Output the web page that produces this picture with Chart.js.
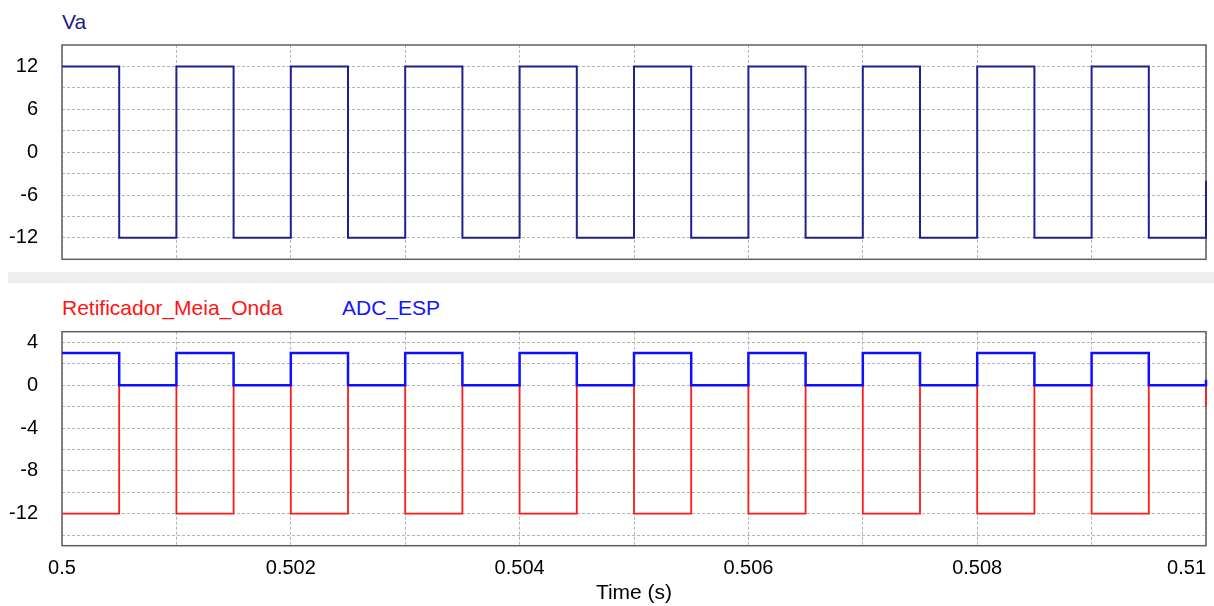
<!DOCTYPE html>
<html>
<head>
<meta charset="utf-8">
<script src="https://cdn.jsdelivr.net/npm/chart.js@4/dist/chart.umd.min.js"></script>
<style>
  body { margin: 0; background: #fff; width: 1214px; height: 606px; position: relative; overflow: hidden; font-family: "Liberation Sans", Arial, sans-serif; }
  canvas { position: absolute; left: 0; }
  #top-chart { top: 0; }
  #bottom-chart { top: 283px; }
  .band { position: absolute; left: 8px; top: 272px; width: 1206px; height: 11px; background: #eeeeee; }
  .label { position: absolute; font-size: 21px; line-height: 21px; white-space: nowrap; }
</style>
</head>
<body>
<div class="label" style="left:62px; top:11px; color:#1c1c8e">Va</div>
<div class="band"></div>
<div class="label" style="left:62px; top:297px; color:#ff1414">Retificador_Meia_Onda</div>
<div class="label" style="left:342px; top:297px; color:#1414ff">ADC_ESP</div>
<canvas id="top-chart" width="1214" height="270"></canvas>
<canvas id="bottom-chart" width="1214" height="323"></canvas>
<script>
// time of each step (s) and the level held from that time on
const time = [0.5, 0.5005, 0.501, 0.5015, 0.502, 0.5025, 0.503, 0.5035, 0.504, 0.5045,
  0.505, 0.5055, 0.506, 0.5065, 0.507, 0.5075, 0.508, 0.5085, 0.509, 0.5095, 0.51];
const va = [12, -12, 12, -12, 12, -12, 12, -12, 12, -12,
  12, -12, 12, -12, 12, -12, 12, -12, 12, -12, -4];
const retificadorMeiaOnda = [-12, 0, -12, 0, -12, 0, -12, 0, -12, 0,
  -12, 0, -12, 0, -12, 0, -12, 0, -12, 0, -2];
const adcEsp = [3, 0, 3, 0, 3, 0, 3, 0, 3, 0,
  3, 0, 3, 0, 3, 0, 3, 0, 3, 0, 0.5];

// axis ticks (grid lines) and the ones that carry a label
const timeTicks = [0.5, 0.501, 0.502, 0.503, 0.504, 0.505, 0.506, 0.507, 0.508, 0.509, 0.51];
const timeLabels = [0.5, 0.502, 0.504, 0.506, 0.508, 0.51];
const vaTicks = [-12, -9, -6, -3, 0, 3, 6, 9, 12];
const vaLabels = [-12, -6, 0, 6, 12];
const lowerTicks = [-14, -12, -10, -8, -6, -4, -2, 0, 2, 4];
const lowerLabels = [-12, -8, -4, 0, 4];

Chart.defaults.font.family = '"Liberation Sans", Arial, sans-serif';
Chart.defaults.color = '#000';

const toPoints = (ys) => time.map((t, i) => ({ x: t, y: ys[i] }));

const frame = {
  id: 'frame',
  beforeDatasetsDraw(chart) {
    const { ctx, chartArea: a } = chart;
    ctx.save();
    ctx.strokeStyle = '#5f5f5f';
    ctx.lineWidth = 1.5;
    ctx.strokeRect(a.left, a.top, a.right - a.left, a.bottom - a.top);
    ctx.restore();
  }
};

const gridStyle = { color: '#b4b4b4', lineWidth: 1, drawTicks: false };
const gridBorder = { display: false, dash: [3, 2] };

function timeScale(showLabels) {
  return {
    type: 'linear',
    min: 0.5,
    max: 0.51,
    afterBuildTicks: (s) => { s.ticks = timeTicks.map((v) => ({ value: v })); },
    afterFit: (s) => {
      s.height = showLabels ? 60.3 : 0;
      s.paddingLeft = 0;
      s.paddingRight = 0;
    },
    grid: gridStyle,
    border: gridBorder,
    ticks: {
      display: showLabels,
      autoSkip: false,
      maxRotation: 0,
      padding: 11,
      font: { size: 20 },
      callback: (v) => {
        if (!timeLabels.includes(v)) return '';
        // last label sits inside the frame, shifted left
        return v === 0.51 ? '0.51       ' : String(v);
      }
    },
    title: {
      display: showLabels,
      text: 'Time (s)',
      font: { size: 21 },
      padding: { top: 0, bottom: 0 }
    }
  };
}

function valueScale(min, max, ticks, labels) {
  return {
    min: min,
    max: max,
    afterBuildTicks: (s) => { s.ticks = ticks.map((v) => ({ value: v })); },
    afterFit: (s) => {
      s.width = 62;
      s.paddingTop = 0;
      s.paddingBottom = 0;
    },
    grid: gridStyle,
    border: gridBorder,
    ticks: {
      autoSkip: false,
      padding: 24,
      font: { size: 20 },
      callback: (v) => (labels.includes(v) ? String(v) : '')
    }
  };
}

const common = {
  responsive: false,
  animation: false,
  events: [],
  plugins: { legend: { display: false }, tooltip: { enabled: false } },
  elements: { point: { radius: 0 }, line: { tension: 0 } }
};

new Chart(document.getElementById('top-chart').getContext('2d'), {
  type: 'line',
  data: {
    datasets: [
      { label: 'Va', data: toPoints(va), borderColor: '#20208f', borderWidth: 2, stepped: 'before', clip: false }
    ]
  },
  options: {
    ...common,
    layout: { padding: { top: 45, right: 8, bottom: 10.7, left: 0 } },
    scales: {
      x: timeScale(false),
      y: valueScale(-15, 15, vaTicks, vaLabels)
    }
  },
  plugins: [frame]
});

new Chart(document.getElementById('bottom-chart').getContext('2d'), {
  type: 'line',
  data: {
    datasets: [
      { label: 'ADC_ESP', data: toPoints(adcEsp), borderColor: '#1010ff', borderWidth: 2.5, stepped: 'before', clip: false },
      { label: 'Retificador_Meia_Onda', data: toPoints(retificadorMeiaOnda), borderColor: '#ff1a1a', borderWidth: 1.8, stepped: 'before', clip: false }
    ]
  },
  options: {
    ...common,
    layout: { padding: { top: 48.7, right: 8, bottom: 0, left: 0 } },
    scales: {
      x: timeScale(true),
      y: valueScale(-15, 5, lowerTicks, lowerLabels)
    }
  },
  plugins: [frame]
});
</script>
</body>
</html>
